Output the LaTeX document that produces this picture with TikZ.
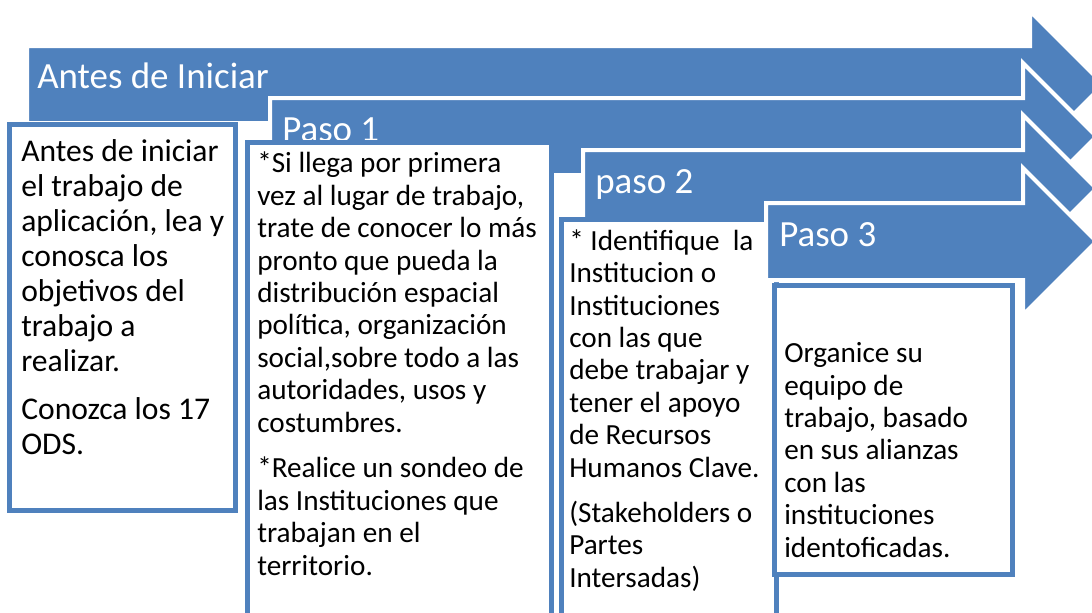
\documentclass[tikz,border=0pt]{standalone}
\usepackage{fontspec}
\setmainfont{Carlito}
\usetikzlibrary{positioning}
\definecolor{stageblue}{HTML}{4F81BD}
\tikzset{
  stagefill/.style = {fill=stageblue, draw=white, line width=3pt, line join=miter},
  card/.style      = {fill=white, draw=stageblue, line width=3.75pt},
  title/.style     = {anchor=base west, inner sep=0pt, text=white, font=\fontsize{27.7}{33}\selectfont},
  cardtxt/.style   = {anchor=base west, inner sep=0pt, align=left, text=black,
                      font=\fontsize{21.9}{24.3}\selectfont},
  bigtxt/.style    = {cardtxt, font=\fontsize{23.7}{26.25}\selectfont},
}
% block arrow: left x, top y, x of the head base
\newcommand{\stagearrow}[3]{%
  \draw[stagefill] (#1,#2) -- (#3,#2) -- (#3,#2-35) -- (#3+73.5,#2+38.5)
    -- (#3,#2+112) -- (#3,#2+77) -- (#1,#2+77) -- cycle;}
\begin{document}
\begin{tikzpicture}[x=0.75pt, y=-0.75pt]
\useasboundingbox (0,0) rectangle (1092,612);
\clip (0,0) rectangle (1092,612);
% antes de iniciar (text nodes sit on their last baseline)
\stagearrow{27}{46}{1030}
\node[title] (ttl0) at (37,88) {Antes de Iniciar};
\draw[card] (9.5,124.5) rectangle (235.5,510);
\node[bigtxt] (txt0) at (21,454) {Antes de iniciar\\el trabajo de\\aplicación, lea y\\conosca los\\objetivos del\\trabajo a\\realizar.\\[9.75pt]Conozca los 17\\ODS.};
% paso 1
\stagearrow{270}{98}{1023}
\node[title] (ttl1) at (282,141) {Paso 1};
\draw[card] (247.5,142) rectangle (551,650);
\node[cardtxt] (txt1) at (257,575) {*Si llega por primera\\vez al lugar de trabajo,\\trate de conocer lo más\\pronto que pueda la\\distribución espacial\\política, organización\\social,sobre todo a las\\autoridades, usos y\\costumbres.\\[10pt]*Realice un sondeo de\\las Instituciones que\\trabajan en el\\territorio.};
% paso 2
\stagearrow{583}{150}{1023}
\node[title] (ttl2) at (595,193) {paso 2};
\draw[card] (561,219.5) rectangle (776,650);
\node[cardtxt] (txt2) at (569,587) {* Identifique\ \ la\\Institucion o\\Instituciones\\con las que\\debe trabajar y\\tener el apoyo\\de Recursos\\Humanos Clave.\\[9.5pt](Stakeholders o\\Partes\\Intersadas)};
% paso 3
\stagearrow{766}{203}{1023}
\node[title] (ttl3) at (779,246) {Paso 3};
\draw[card] (774.5,285.5) rectangle (1012.5,574.5);
\node[cardtxt] (txt3) at (784,557) {Organice su\\equipo de\\trabajo, basado\\en sus alianzas\\con las\\instituciones\\identoficadas.};
\end{tikzpicture}
\end{document}
